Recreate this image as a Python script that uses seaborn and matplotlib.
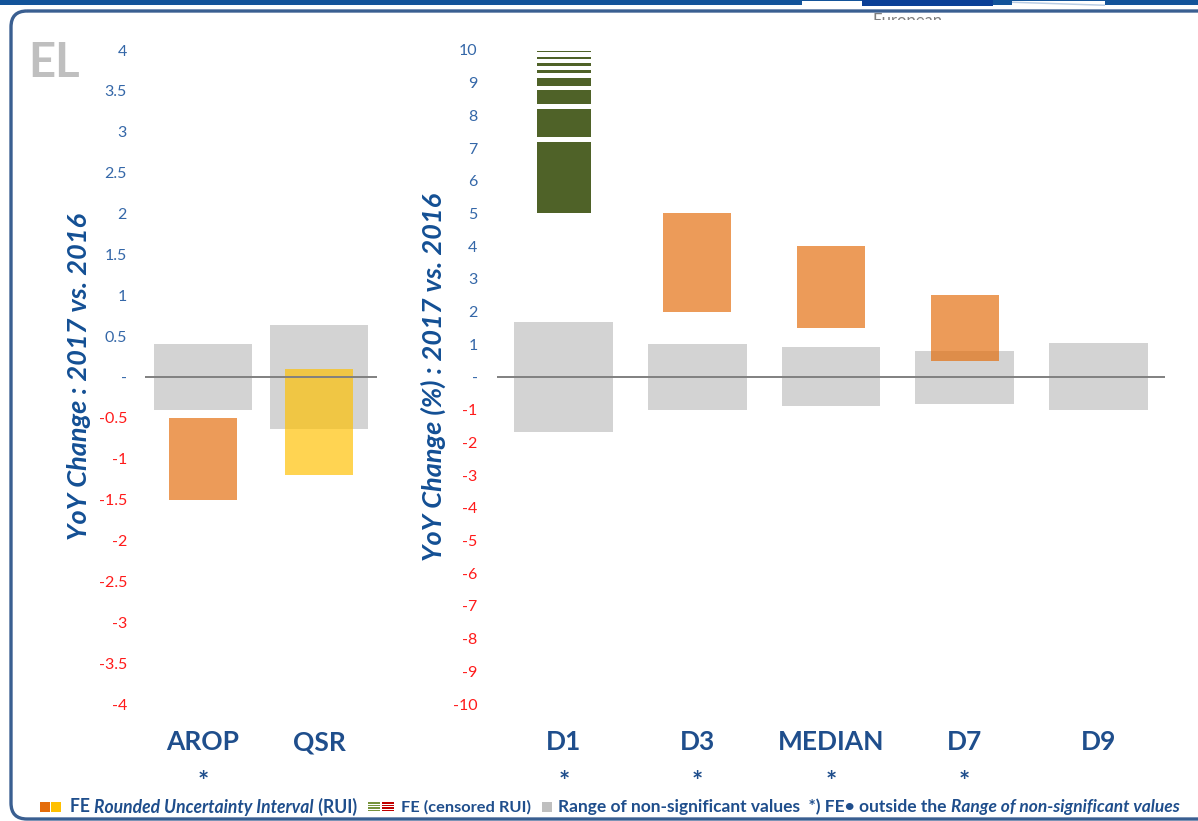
import numpy as np
import matplotlib
matplotlib.use("Agg")
import matplotlib.pyplot as plt
import seaborn as sns
from matplotlib.patches import FancyBboxPatch, Rectangle, Polygon
from matplotlib.transforms import blended_transform_factory

# ---------------- data ----------------
left_cats = ["AROP", "QSR"]
left_ns_low = [-0.40, -0.63]
left_ns_high = [0.40, 0.63]
left_rui_low = [-1.5, -1.2]
left_rui_high = [-0.5, 0.1]
left_rui_colors = ["#E46C0A", "#FFC000"]
left_star = [True, False]
left_ticks = [4, 3.5, 3, 2.5, 2, 1.5, 1, 0.5, 0, -0.5, -1, -1.5, -2, -2.5, -3, -3.5, -4]

right_cats = ["D1", "D3", "MEDIAN", "D7", "D9"]
right_ns_low = [-1.67, -1.0, -0.9, -0.82, -1.0]
right_ns_high = [1.67, 1.0, 0.92, 0.8, 1.05]
right_rui_cats = ["D3", "MEDIAN", "D7"]
right_rui_low = [2.0, 1.5, 0.5]
right_rui_high = [5.0, 4.0, 2.5]
right_star = [True, True, True, True, False]
right_ticks = [10, 9, 8, 7, 6, 5, 4, 3, 2, 1, 0, -1, -2, -3, -4, -5, -6, -7, -8, -9, -10]

# censored RUI of D1 (segments of the striped bar)
d1_cens_low = [5.0, 7.33, 8.35, 8.91, 9.29, 9.51, 9.72, 9.93]
d1_cens_high = [7.18, 8.20, 8.78, 9.13, 9.39, 9.59, 9.78, 9.98]

# ---------------- style ----------------
sns.set_theme(style="white")
plt.rcParams["font.family"] = ["Lato", "DejaVu Sans"]

BLUE_TXT = "#1F4E8C"
TICK_POS = "#3467A8"
TICK_NEG = "#FF1A1A"
GRAY = "#D3D3D3"
GREEN = "#4F6228"
FRAME = "#3A5F91"

W, H = 1198, 821
fig = plt.figure(figsize=(W / 100, H / 100), dpi=100)

# background / decoration axes in pixel coordinates
bg = fig.add_axes([0, 0, 1, 1])
bg.set_xlim(0, W)
bg.set_ylim(H, 0)
bg.axis("off")

bg.add_patch(Rectangle((0, 0), W, 5.5, color="#13549A", lw=0))
bg.add_patch(Rectangle((802, 1.5), 60, 4.5, color="white", lw=0))
bg.add_patch(Rectangle((862, 0), 131, 6.5, color="#0B3F96", lw=0))
bg.add_patch(Polygon([(1012, 1.5), (1105, 1.5), (1105, 6), (1012, 6)], closed=True, color="white", lw=0))
bg.add_patch(Polygon([(1012, 1.5), (1105, 4.5), (1105, 6), (1012, 3)], closed=True, color="#B8CCE4", lw=0))
bg.add_patch(FancyBboxPatch((11, 11), 1230, 808, boxstyle="round,pad=0,rounding_size=16",
                            fill=False, ec=FRAME, lw=2.4))
bg.text(872, 13, "European", va="top", ha="left", fontsize=12, color="#7F7F7F", zorder=1)
bg.add_patch(Rectangle((860, 20.5), 110, 14, color="white", lw=0, zorder=3))

bg.text(28, 63, "EL", va="center", ha="left", fontsize=34, fontweight="bold", color="#BFBFBF")


def make_axes(px_left, px_right, px_top, px_bottom):
    return fig.add_axes([px_left / W, (H - px_bottom) / H,
                         (px_right - px_left) / W, (px_bottom - px_top) / H])


def fmt(v):
    if v == 0:
        return "-"
    return ("%g" % v)


def style_axes(ax, cats, ticks, ylim, stars, ylabel, label_x, pad, label_size):
    ax.set_facecolor("none")
    for s in ax.spines.values():
        s.set_visible(False)
    ax.set_xlim(-0.5, len(cats) - 0.5)
    ax.set_ylim(*ylim)
    ax.set_yticks(ticks)
    ax.set_yticklabels([fmt(t) for t in ticks])
    for lab, t in zip(ax.get_yticklabels(), ticks):
        lab.set_color(TICK_NEG if t < 0 else TICK_POS)
        lab.set_fontsize(11.5)
    ax.tick_params(axis="y", length=0, pad=pad)
    ax.set_xticks(range(len(cats)))
    ax.set_xticklabels(cats, fontsize=19, fontweight="bold", color=BLUE_TXT)
    ax.tick_params(axis="x", length=0, pad=19)
    ax.set_xlabel("")
    ax.set_ylabel(ylabel, fontsize=label_size, fontweight="bold", style="italic", color="#134F94")
    ax.yaxis.set_label_coords(label_x, 0.5)
    ax.axhline(0, color="#808080", lw=1.4, zorder=5)
    tr = blended_transform_factory(ax.transData, ax.transAxes)
    for i, st in enumerate(stars):
        if st:
            ax.text(i, -0.12, "*", transform=tr, ha="center", va="center",
                    fontsize=19, fontweight="bold", color=BLUE_TXT)
    ax.grid(False)


# ---------------- left panel ----------------
axL = make_axes(145, 377, 50, 704)
sns.barplot(x=left_cats, y=np.subtract(left_ns_high, left_ns_low), bottom=left_ns_low,
            color=GRAY, saturation=1, width=0.85, errorbar=None, linewidth=0,
            ax=axL, zorder=1)
for i, (lo, hi, c) in enumerate(zip(left_rui_low, left_rui_high, left_rui_colors)):
    axL.bar(i, hi - lo, bottom=lo, width=0.59, color=c, alpha=0.68, lw=0, zorder=2)
style_axes(axL, left_cats, left_ticks, (-4, 4), left_star,
           "YoY Change : 2017 vs. 2016", (91 - 145) / 232, 13, 19.5)

# ---------------- right panel ----------------
axR = make_axes(497, 1165, 50, 704)
sns.barplot(x=right_cats, y=np.subtract(right_ns_high, right_ns_low), bottom=right_ns_low,
            color=GRAY, saturation=1, width=0.74, errorbar=None, linewidth=0,
            ax=axR, zorder=1)
for cat, lo, hi in zip(right_rui_cats, right_rui_low, right_rui_high):
    axR.bar(right_cats.index(cat), hi - lo, bottom=lo, width=0.51, color="#E46C0A",
            alpha=0.68, lw=0, zorder=2)
axR.bar([0] * len(d1_cens_low), np.subtract(d1_cens_high, d1_cens_low), bottom=d1_cens_low,
        width=0.40, color=GREEN, lw=0, zorder=2)
style_axes(axR, right_cats, right_ticks, (-10, 10), right_star,
           "YoY Change (%) : 2017 vs. 2016", (446 - 497) / 668, 14, 19.5)

# ---------------- legend (custom, pixel coords) ----------------
bg.add_patch(Rectangle((40, 802), 10, 10, color="#E46C0A", lw=0))
bg.add_patch(Rectangle((51, 802), 10, 10, color="#FFC000", lw=0))
for k in range(4):
    bg.add_patch(Rectangle((368, 802 + k * 2.6), 12, 1.7, color="#77933C", lw=0))
    bg.add_patch(Rectangle((382, 802 + k * 2.6), 12, 1.7, color="#C00000", lw=0))
bg.add_patch(Rectangle((542, 802), 10, 10, color="#BFBFBF", lw=0))

fig.canvas.draw()
renderer = fig.canvas.get_renderer()


def chain(pieces, x0, x1, y, base=10):
    widths = []
    for txt, st in pieces:
        t = bg.text(0, y, txt, fontsize=base, style=st, fontweight="bold")
        widths.append(t.get_window_extent(renderer).width)
        t.remove()
    size = base * (x1 - x0) / sum(widths)
    x = x0
    for txt, st in pieces:
        t = bg.text(x, y, txt, fontsize=size, style=st, fontweight="bold",
                    color=BLUE_TXT, va="center", ha="left")
        x += t.get_window_extent(renderer).width


chain([("FE ", "normal"), ("Rounded Uncertainty Interval", "italic"), (" (RUI)", "normal")],
      70, 358, 807)
chain([("FE (censored RUI)", "normal")], 401, 531, 807)
chain([("Range of non-significant values  *) FE\u2022 outside the ", "normal"),
       ("Range of non-significant values", "italic")], 558, 1180, 807)

fig.savefig("out.png", dpi=100)
